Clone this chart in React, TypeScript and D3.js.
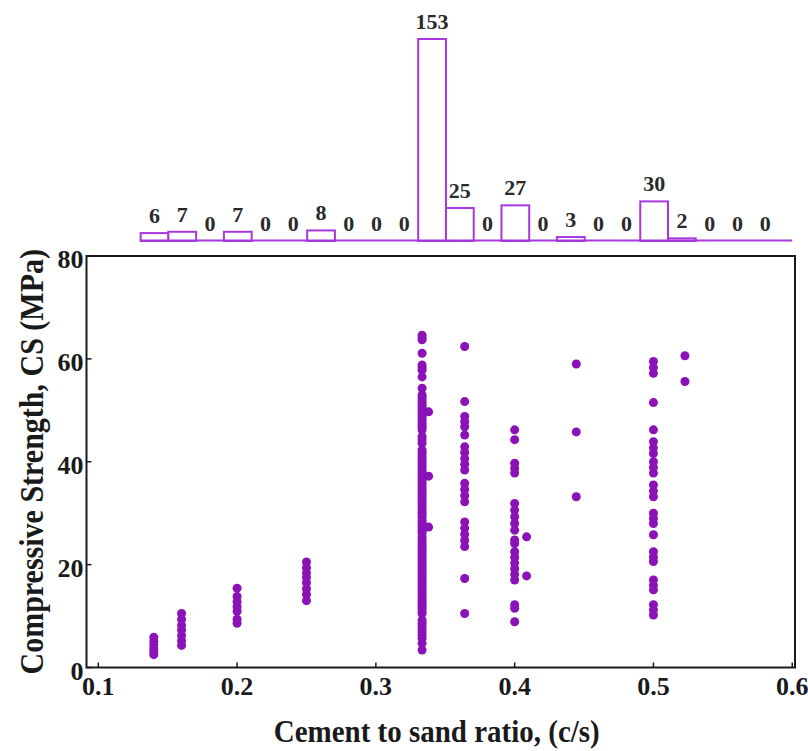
import React from "react";
import * as d3 from "d3";

// ---- data ----
const xTicks = [0.1, 0.2, 0.3, 0.4, 0.5, 0.6];
const yTicks = [0, 20, 40, 60, 80];

const histCounts = [6, 7, 0, 7, 0, 0, 8, 0, 0, 0, 153, 25, 0, 27, 0, 3, 0, 0, 30, 2, 0, 0, 0];
const histBinStart = 0.1305;
const histBinWidth = 0.02;

const cs014 = [2.5, 3.1, 3.7, 4.4, 5.1, 5.9];
const cs016 = [4.3, 5.2, 6.2, 7.3, 8.2, 9.4, 10.5];
const cs020 = [8.6, 9.4, 10.9, 11.8, 12.8, 13.8, 15.4];
const cs025 = [13.0, 14.2, 15.3, 16.5, 17.5, 18.4, 19.4, 20.5];
const cs0333 = [
  64.6, 64.1, 63.7, 61.1, 58.8, 58.3, 57.8, 56.5, 54.3, 53.0, 52.5, 52.0, 51.5, 51.0,
  50.5, 50.0, 49.5, 49.0, 48.5, 48.1, 47.6, 47.2, 46.7, 46.2, 44.9, 44.3, 43.6, 42.3,
  41.8, 41.3, 40.8, 40.3, 39.8, 39.3, 38.8, 38.3, 37.8, 37.3, 36.8, 36.3, 35.8, 35.3,
  34.8, 34.3, 33.8, 33.3, 32.8, 32.3, 31.8, 31.3, 30.7, 30.2, 29.7, 29.2, 28.6, 28.1,
  27.6, 27.1, 26.6, 26.1, 25.4, 24.9, 24.4, 23.9, 23.4, 22.9, 22.4, 21.9, 21.4, 20.9,
  20.4, 19.9, 19.4, 18.9, 18.4, 17.9, 17.4, 16.9, 16.4, 15.9, 15.4, 14.9, 14.4, 13.9,
  13.4, 12.9, 12.4, 11.9, 11.5, 11.0, 10.5, 9.2, 8.6, 8.1, 7.5, 6.9, 6.3, 5.7, 4.7, 3.4,
];
const cs0338 = [49.7, 37.2, 27.3];
const cs0364 = [
  62.4, 51.7, 48.8, 47.8, 46.8, 45.2, 42.9, 41.8, 40.6, 39.5, 38.4, 35.8, 34.6, 33.4,
  32.2, 28.3, 27.1, 25.9, 24.7, 23.5, 17.3, 10.5,
];
const cs040 = [
  46.2, 44.3, 39.7, 38.7, 37.8, 31.9, 30.6, 29.3, 28.0, 26.7, 24.8, 24.1, 22.5, 21.4,
  20.3, 19.2, 18.1, 17.0, 12.2, 11.5, 8.9,
];
const cs0409 = [25.4, 17.8];
const cs0444 = [59.0, 45.8, 33.2];
const cs050 = [
  59.5, 58.3, 57.2, 51.5, 46.2, 43.9, 42.7, 41.6, 40.0, 38.9, 37.8, 35.5, 34.3, 33.2,
  30.0, 29.0, 28.0, 25.8, 22.5, 21.5, 20.6, 17.0, 16.0, 15.1, 12.2, 11.2, 10.2,
];
const cs0522 = [60.6, 55.6];

const groupRatio = [0.14, 0.16, 0.2, 0.25, 0.3333, 0.338, 0.364, 0.4, 0.4086, 0.4444, 0.5, 0.5227];
const groupCS = [cs014, cs016, cs020, cs025, cs0333, cs0338, cs0364, cs040, cs0409, cs0444, cs050, cs0522];

// ---- layout ----
const W = 808;
const H = 751;
const plotLeft = 86.5;
const plotRight = 795;
const plotTop = 256;
const plotBottom = 667.5;
const histBase = 241;
const histTop = 39;

const dotColor = "#8a12b6";
const barColor = "#a638de";
const font = "'Liberation Serif', 'Times New Roman', serif";

export default function App() {
  const x = d3.scaleLinear().domain([0.0915, 0.602]).range([plotLeft, plotRight]);
  const y = d3.scaleLinear().domain([0, 80]).range([plotBottom, plotTop]);
  const hy = d3.scaleLinear().domain([0, 153]).range([histBase, histTop]);

  const points: { px: number; py: number }[] = [];
  groupRatio.forEach((r, i) => {
    groupCS[i].forEach((v) => points.push({ px: x(r), py: y(v) }));
  });

  const bins = histCounts.map((c, i) => {
    const x0 = x(histBinStart + i * histBinWidth);
    const x1 = x(histBinStart + (i + 1) * histBinWidth);
    return { c, x0, x1 };
  });

  return (
    <svg
      width={W}
      height={H}
      style={{ position: "absolute", left: 0, top: 0, background: "#fff" }}
      fontFamily={font}
      fontWeight="bold"
    >
      <rect x={0} y={0} width={W} height={H} fill="#fff" />
      {/* histogram */}
      {bins.map((b, i) =>
        b.c > 0 ? (
          <rect
            key={"b" + i}
            x={b.x0}
            y={hy(b.c)}
            width={b.x1 - b.x0}
            height={histBase - hy(b.c)}
            fill="#fff"
            stroke={barColor}
            strokeWidth={2}
          />
        ) : null
      )}
      <line
        x1={x(histBinStart)}
        x2={x(0.6)}
        y1={histBase - 0.5}
        y2={histBase - 0.5}
        stroke={barColor}
        strokeWidth={2}
      />
      {bins.map((b, i) => (
        <text
          key={"l" + i}
          x={(b.x0 + b.x1) / 2}
          y={hy(b.c) - 10}
          textAnchor="middle"
          fontSize={22}
          fill="#2a2a2a"
        >
          {b.c}
        </text>
      ))}

      {/* axes box */}
      <rect
        x={plotLeft}
        y={plotTop}
        width={plotRight - plotLeft}
        height={plotBottom - plotTop}
        fill="none"
        stroke="#1a1a1a"
        strokeWidth={2}
      />
      {xTicks.map((t) => (
        <g key={"xt" + t}>
          <line x1={x(t)} x2={x(t)} y1={plotBottom} y2={plotBottom - 5} stroke="#1a1a1a" strokeWidth={1.5} />
          <text x={x(t)} y={plotBottom + 27.5} textAnchor="middle" fontSize={26} fill="#1a1a1a">
            {t.toFixed(1)}
          </text>
        </g>
      ))}
      {yTicks.map((t) => (
        <g key={"yt" + t}>
          <line x1={plotLeft} x2={plotLeft + 5} y1={y(t)} y2={y(t)} stroke="#1a1a1a" strokeWidth={1.5} />
          <text x={plotLeft - 3} y={y(t) + 12} textAnchor="end" fontSize={26} fill="#1a1a1a">
            {t}
          </text>
        </g>
      ))}

      {/* points */}
      {points.map((p, i) => (
        <circle key={"p" + i} cx={p.px} cy={p.py} r={4.5} fill={dotColor} />
      ))}

      {/* titles */}
      <text
        transform={`translate(${(plotLeft + plotRight) / 2 - 4}, 741.5) scale(1, 1.12)`}
        textAnchor="middle"
        fontSize={29}
        fill="#1a1a1a"
      >
        Cement to sand ratio, (c/s)
      </text>
      <text
        transform={`translate(43, ${(plotTop + plotBottom) / 2}) rotate(-90) scale(1, 1.12)`}
        textAnchor="middle"
        fontSize={30}
        fill="#1a1a1a"
      >
        Compressive Strength, CS (MPa)
      </text>
    </svg>
  );
}
